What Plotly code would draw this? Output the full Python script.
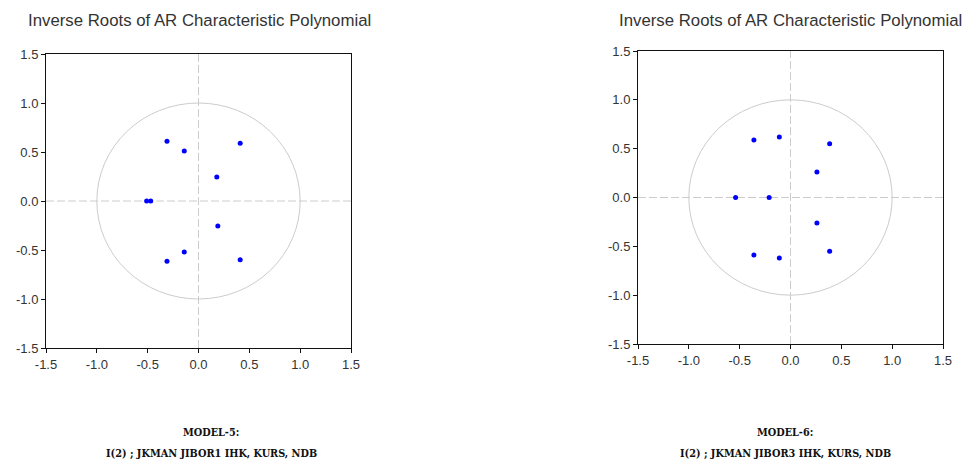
import plotly.graph_objects as go

# Inverse roots (real, imaginary)
model5_real = [-0.31, -0.14, 0.41, 0.18, -0.51, -0.47, 0.19, -0.14, -0.31, 0.41]
model5_imag = [0.61, 0.51, 0.59, 0.245, 0.0, 0.0, -0.255, -0.52, -0.615, -0.60]

model6_real = [-0.36, -0.11, 0.385, 0.26, -0.54, -0.21, 0.26, 0.385, -0.36, -0.11]
model6_imag = [0.59, 0.62, 0.55, 0.26, 0.0, 0.0, -0.26, -0.55, -0.59, -0.62]

tick_vals = [-1.5, -1.0, -0.5, 0.0, 0.5, 1.0, 1.5]
tick_text = ["-1.5", "-1.0", "-0.5", "0.0", "0.5", "1.0", "1.5"]
unit_radius = 1.0
chart_title = "Inverse Roots of AR Characteristic Polynomial"
captions = [("MODEL-5:", "I(2) ; JKMAN JIBOR1 IHK, KURS, NDB"),
            ("MODEL-6:", "I(2) ; JKMAN JIBOR3 IHK, KURS, NDB")]

W, H = 962, 461
fig = go.Figure()

panels = [
    dict(real=model5_real, imag=model5_imag, x=(46, 351), y=(54, 348), xa="x", ya="y", tcx=199, ccx=211),
    dict(real=model6_real, imag=model6_imag, x=(638, 943), y=(51, 344), xa="x2", ya="y2", tcx=790, ccx=785),
]

for i, p in enumerate(panels):
    fig.add_trace(go.Scatter(
        x=p["real"], y=p["imag"], mode="markers",
        marker=dict(color="#0000FF", size=5, line=dict(width=0)),
        xaxis=p["xa"], yaxis=p["ya"], showlegend=False, hoverinfo="x+y"))
    sfx = "" if i == 0 else "2"
    axis_common = dict(range=[-1.5, 1.5], tickvals=tick_vals, ticktext=tick_text,
                       showgrid=False, zeroline=False, showline=True, mirror=True,
                       linecolor="#111", linewidth=1, ticks="outside", ticklen=4,
                       tickcolor="#111", automargin=False,
                       tickfont=dict(family="Liberation Sans, Arial", size=13, color="#333"),
                       fixedrange=True)
    fig.update_layout(**{
        "xaxis" + sfx: dict(axis_common, domain=[p["x"][0] / W, p["x"][1] / W],
                            anchor="y" + sfx),
        "yaxis" + sfx: dict(axis_common, domain=[1 - p["y"][1] / H, 1 - p["y"][0] / H],
                            anchor="x" + sfx),
    })
    # unit circle
    fig.add_shape(type="circle", xref=p["xa"], yref=p["ya"],
                  x0=-unit_radius, y0=-unit_radius, x1=unit_radius, y1=unit_radius,
                  line=dict(color="#CCCCCC", width=1), layer="below")
    # dashed zero lines
    fig.add_shape(type="line", xref=p["xa"], yref=p["ya"], x0=-1.5, x1=1.5, y0=0, y1=0,
                  line=dict(color="#CCCCCC", width=1, dash="8px,3px"), layer="below")
    fig.add_shape(type="line", xref=p["xa"], yref=p["ya"], x0=0, x1=0, y0=-1.5, y1=1.5,
                  line=dict(color="#CCCCCC", width=1, dash="8px,3px"), layer="below")
    # title
    fig.add_annotation(text=chart_title, xref="paper", yref="paper",
                       x=p["tcx"] / W, y=1 - 20 / H, xanchor="center", yanchor="middle",
                       showarrow=False,
                       font=dict(family="Liberation Sans, Arial", size=16.8, color="#333"))
    # captions
    for j, yy in enumerate((432, 453)):
        fig.add_annotation(text="<b>" + captions[i][j] + "</b>", xref="paper", yref="paper",
                           x=p["ccx"] / W, y=1 - yy / H, xanchor="center", yanchor="middle",
                           showarrow=False,
                           font=dict(family="DejaVu Serif Condensed", size=10.8, color="#111"))

fig.update_layout(width=W, height=H,
                  margin=dict(l=0, r=0, t=0, b=0, pad=0, autoexpand=False),
                  paper_bgcolor="white", plot_bgcolor="white")

fig.write_html("out.html", config={"displayModeBar": False},
               post_script="document.body.style.margin='0';document.body.style.overflow='hidden';")
